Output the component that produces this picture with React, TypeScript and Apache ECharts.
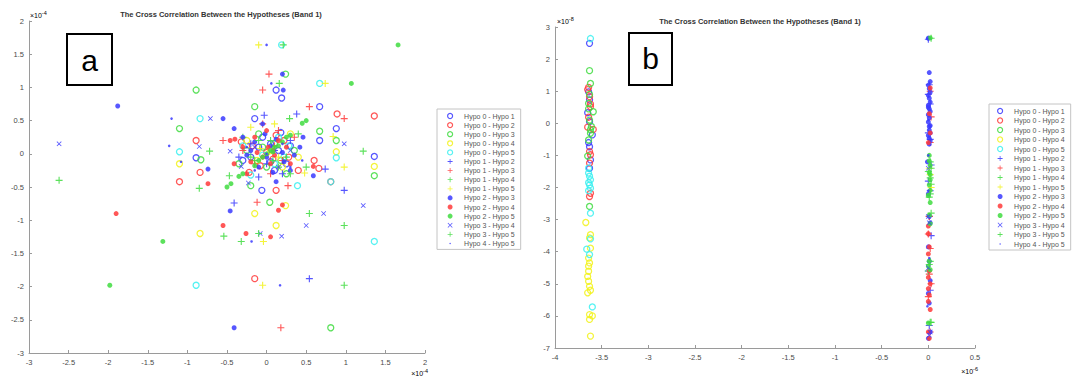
import React, { useEffect, useRef } from "react";
import * as echarts from "echarts";

// ---------- shared names / styles ----------
const seriesNames = [
  "Hypo 0 - Hypo 1", "Hypo 0 - Hypo 2", "Hypo 0 - Hypo 3", "Hypo 0 - Hypo 4", "Hypo 0 - Hypo 5",
  "Hypo 1 - Hypo 2", "Hypo 1 - Hypo 3", "Hypo 1 - Hypo 4", "Hypo 1 - Hypo 5",
  "Hypo 2 - Hypo 3", "Hypo 2 - Hypo 4", "Hypo 2 - Hypo 5",
  "Hypo 3 - Hypo 4", "Hypo 3 - Hypo 5", "Hypo 4 - Hypo 5",
];
const markerKinds = ["o", "o", "o", "o", "o", "+", "+", "+", "+", "*", "*", "*", "x", "+", "."];
const markerColors = [
  "#3a3aff", "#ff3a3a", "#3fdc3f", "#f2f21a", "#3af0f0",
  "#3a3aff", "#ff3a3a", "#3fdc3f", "#f2f21a",
  "#3a3aff", "#ff3a3a", "#3fdc3f",
  "#3a3aff", "#3fdc3f", "#3a3aff",
];

// ---------- panel a (x, y in units of 1e-4) ----------
const aTicksX = [-3, -2.5, -2, -1.5, -1, -0.5, 0, 0.5, 1, 1.5, 2];
const aTicksY = [-3, -2.5, -2, -1.5, -1, -0.5, 0, 0.5, 1, 1.5, 2];
const aH01 = [[0.12, 0.96], [0.19, 0.84], [-0.15, 0.53], [0.88, 0.38], [0.67, 0.2], [-0.89, -0.06], [1.36, -0.04], [-0.06, -0.55], [0.67, 0.71], [-0.1, 0.1], [0.05, -0.12], [0.15, 0.05], [-0.2, -0.05], [0.25, -0.15], [0.3, 0.12], [-0.05, 0.25], [0.1, -0.25], [-0.3, -0.1], [0.18, 0.32], [0.05, 0.15]];
const aH02 = [[0.89, 0.6], [1.36, 0.57], [-0.89, 0.2], [0.66, -0.22], [-0.84, -0.28], [-1.1, -0.42], [0.81, -0.42], [0.12, -0.55], [-0.15, -1.88], [-0.18, 0.12], [0.0, 0.02], [0.08, -0.08], [0.22, 0.2], [-0.08, -0.18], [0.28, -0.05], [0.6, -0.1], [-0.22, -0.28], [0.12, 0.28], [-0.32, 0.18], [0.4, -0.25]];
const aH03 = [[0.24, 1.2], [-0.89, 0.96], [-0.15, 0.71], [-1.1, 0.38], [0.67, 0.34], [0.88, 0.2], [-0.83, -0.09], [1.36, -0.33], [-0.2, -0.48], [0.04, -0.73], [0.81, -2.62], [0.1, 0.15], [-0.25, 0.05], [0.18, -0.1], [0.0, -0.2], [-0.1, 0.3], [0.35, 0.05], [-0.05, 0.1], [0.25, -0.3], [-0.35, -0.15]];
const aH04 = [[0.88, 0.03], [-1.1, -0.15], [1.36, -0.19], [0.24, -0.78], [-0.15, -0.9], [0.12, -1.08], [-0.84, -1.2], [0.05, 0.05], [-0.12, -0.1], [0.2, -0.2], [0.3, 0.3], [-0.25, 0.2], [0.4, -0.05]];
const aH05 = [[0.19, 1.64], [0.67, 1.06], [-0.84, 0.53], [-1.1, 0.03], [0.88, -0.06], [-0.2, -0.32], [0.81, -0.42], [0.39, -0.48], [1.36, -1.32], [-0.89, -1.98], [0.15, 0.25], [0.28, 0.12], [-0.05, -0.02], [0.1, -0.15], [-0.3, 0.12], [0.22, -0.05]];
const aH12 = [[0.38, 0.6], [-0.03, 0.58], [0.74, -0.23], [0.98, -0.55], [-0.41, -0.74], [0.54, -1.88], [0.1, 0.05], [-0.2, 0.15], [0.2, -0.3], [-0.1, -0.35], [0.3, 0.2], [0.0, -0.15], [-0.35, -0.05]];
const aH13 = [[0.03, 1.2], [-0.05, 0.96], [0.54, 0.71], [0.98, 0.53], [-0.55, 0.2], [0.27, -0.48], [-0.12, -0.73], [0.18, -2.62], [-0.05, 0.45], [0.15, 0.35], [0.35, 0.25], [-0.3, 0.05], [0.05, -0.3], [0.2, -0.1], [-0.15, -0.15], [0.1, 0.12]];
const aH14 = [[0.21, 1.64], [0.16, 1.06], [0.29, 0.53], [-0.72, 0.04], [0.5, -0.2], [-0.47, -0.33], [-0.85, -0.52], [0.54, -0.9], [0.05, 0.2], [-0.15, -0.1], [0.25, -0.05], [0.4, 0.3], [0.15, -0.2], [-0.3, 0.25]];
const aH15 = [[-0.1, 1.64], [0.74, 1.06], [0.84, 0.26], [0.98, -0.2], [0.48, -0.29], [-0.04, -1.32], [-0.05, -1.98], [0.1, 0.45], [-0.2, 0.4], [0.15, -0.05], [-0.08, 0.08]];
const aH23 = [[0.2, 1.2], [0.21, 0.96], [-0.55, 0.53], [-0.41, 0.38], [-0.74, -0.23], [0.59, -0.33], [-0.46, -0.86], [-0.41, -2.62], [-1.88, 0.72], [0.46, 0.25], [-0.02, 0.3], [0.12, 0.22], [-0.25, -0.02], [0.0, -0.05], [0.2, 0.02], [-0.1, -0.2], [0.12, -0.42], [0.3, -0.25], [-0.3, 0.25], [0.05, 0.12], [0.35, -0.02], [-0.15, 0.18], [0.22, -0.12], [-0.2, 0.05], [0.08, -0.28], [-0.05, 0.45], [0.42, 0.1]];
const aH24 = [[-0.46, 0.2], [-0.4, 0.22], [-0.41, -0.15], [0.59, -0.19], [-0.74, -0.45], [0.2, -0.77], [0.15, -0.85], [-0.55, -1.08], [-0.26, -1.2], [0.05, -1.25], [-1.9, -0.9], [-0.12, 0.02], [0.02, 0.1], [0.1, -0.02], [-0.2, -0.12], [0.05, -0.15], [-0.05, -0.05], [0.25, 0.1], [-0.3, 0.1], [0.0, 0.35], [0.15, 0.2], [-0.15, 0.25], [0.3, -0.15], [-0.25, -0.3], [0.08, 0.05]];
const aH25 = [[1.66, 1.64], [1.07, 1.06], [0.5, 0.5], [0.45, 0.46], [-0.3, -0.3], [-0.35, -0.34], [-0.45, -0.45], [-0.5, -0.5], [-1.31, -1.32], [-1.98, -1.98], [0.05, 0.05], [0.1, 0.1], [-0.05, -0.05], [0.15, 0.12], [-0.1, -0.1], [0.2, 0.18], [0.0, 0.0], [0.08, 0.03], [0.25, 0.25], [-0.15, -0.18], [0.3, 0.28]];
const aH34 = [[-2.62, 0.15], [-0.71, 0.53], [-0.85, 0.11], [-0.46, 0.04], [-0.32, -0.19], [0.98, 0.15], [-0.23, -0.44], [1.22, -0.78], [0.72, -0.9], [0.5, -1.08], [-0.08, -1.2], [0.19, -1.24], [0.3, 0.05], [0.15, -0.2], [-0.15, 0.1]];
const aH35 = [[-2.62, -0.4], [1.22, 0.04], [0.98, -1.08], [-0.54, -1.24], [-0.1, -1.2], [-0.32, -1.32], [0.98, -1.98], [0.08, -0.1], [-0.1, 0.2], [0.3, -0.3], [-0.2, -0.05]];
const aH45 = [[0.0, 1.64], [0.06, 1.06], [-1.2, 0.53], [-1.23, 0.12], [-1.08, -0.12], [-0.19, -1.32], [0.17, -1.98], [0.45, -0.1], [0.0, 0.0], [0.2, 0.15], [-0.15, -0.25], [0.3, -0.2], [-0.25, 0.1]];
const panelA = [aH01, aH02, aH03, aH04, aH05, aH12, aH13, aH14, aH15, aH23, aH24, aH25, aH34, aH35, aH45];

// ---------- panel b (x in units of 1e-6, y in units of 1e-8) ----------
const bTicksX = [-4, -3.5, -3, -2.5, -2, -1.5, -1, -0.5, 0, 0.5];
const bTicksY = [-7, -6, -5, -4, -3, -2, -1, 0, 1, 2, 3];
const bH01 = [[-3.63, 2.49], [-3.64, 0.98], [-3.63, 0.73], [-3.65, 0.33], [-3.6, -0.36], [-3.63, -0.73], [-3.62, -1.14], [-3.63, 0.05], [-3.64, -0.6], [-3.63, -1.4]];
const bH02 = [[-3.64, 1.12], [-3.63, 0.83], [-3.62, 0.52], [-3.64, 0.19], [-3.65, -0.12], [-3.59, -0.19], [-3.63, -0.88], [-3.62, -0.98], [-3.63, -1.24], [-3.62, -2.18], [-3.63, -2.28], [-3.65, 1.05], [-3.62, 0.6]];
const bH03 = [[-3.63, 1.64], [-3.62, 1.24], [-3.64, 0.62], [-3.59, 0.36], [-3.63, 0.1], [-3.62, -0.31], [-3.64, -0.52], [-3.65, -1.02], [-3.63, -2.59], [-3.63, 0.9], [-3.61, -0.1], [-3.64, 0.45], [-3.62, -0.2]];
const bH04 = [[-3.67, -3.09], [-3.62, -3.47], [-3.63, -3.57], [-3.62, -3.89], [-3.64, -4.2], [-3.63, -4.35], [-3.64, -4.61], [-3.65, -4.77], [-3.64, -4.92], [-3.63, -5.08], [-3.62, -5.2], [-3.65, -5.28], [-3.63, -5.96], [-3.63, -6.11], [-3.62, -6.63], [-3.64, -4.45], [-3.6, -6.0]];
const bH05 = [[-3.62, 2.64], [-3.64, -1.55], [-3.63, -1.65], [-3.62, -1.76], [-3.64, -1.85], [-3.63, -1.92], [-3.62, -2.02], [-3.64, -2.1], [-3.62, -2.8], [-3.62, -3.6], [-3.66, -3.92], [-3.63, -4.09], [-3.6, -5.72], [-3.64, -1.4]];
const bH12 = [[0.0, 2.62], [0.01, 1.2], [0.02, 0.6], [0.0, -0.3], [0.03, -1.3], [0.0, -1.8], [0.02, -2.1], [0.01, -2.9], [0.03, -3.5], [0.0, -4.6], [0.02, -5.2], [0.01, -6.3], [0.0, 0.9], [0.02, -0.5]];
const bH13 = [[0.02, 1.0], [0.03, 0.2], [0.02, -0.6], [0.0, -3.45], [0.02, -3.9], [0.01, -4.7], [0.03, -5.0], [0.0, -5.4], [0.02, -6.5], [0.01, -2.9]];
const bH14 = [[0.03, 2.65], [0.02, -1.2], [0.0, -1.5], [0.03, -1.9], [0.01, -2.3], [0.02, -4.3], [0.0, -4.6], [0.03, -6.2], [0.02, -1.7]];
const bH15 = [[0.02, -1.6], [0.03, -2.0], [0.01, -1.4]];
const bH23 = [[0.0, 2.65], [0.01, 1.58], [0.0, 1.19], [0.02, 0.97], [0.01, 0.78], [0.0, 0.56], [0.02, 0.37], [0.01, 0.17], [0.0, 0.04], [0.02, -0.07], [0.01, -0.21], [0.0, -0.38], [0.02, -0.54], [0.01, -0.65], [0.02, 1.3], [0.0, 0.5], [0.01, -0.1], [-0.01, -1.2], [0.0, -2.2], [0.01, -2.9], [0.02, -3.1], [0.0, -3.85], [0.01, -4.3], [0.02, -4.9], [0.0, -5.3], [0.01, -5.6], [0.02, -6.5], [0.0, -6.7], [0.01, 1.08], [0.0, 0.87], [0.02, 0.66], [0.01, 0.45], [0.0, 0.27], [0.02, -0.3], [0.01, -0.47]];
const bH24 = [[0.02, 1.1], [0.01, 0.3], [0.02, -0.3], [0.0, -0.6], [0.0, -3.44], [0.01, -3.85], [0.0, -4.07], [0.01, -4.6], [0.0, -4.8], [0.02, -5.0], [0.0, -5.15], [0.01, -5.35], [0.0, -5.55], [0.02, -5.8], [0.0, -6.5], [0.01, -6.7], [0.0, -3.2]];
const bH25 = [[0.02, 2.66], [0.01, -1.17], [0.02, -1.31], [0.01, -1.53], [0.02, -1.76], [0.01, -1.92], [0.02, -2.09], [0.0, -2.25], [0.02, -2.47], [0.01, -2.86], [0.02, -3.13], [0.01, -4.29], [0.0, -4.45], [0.02, -4.56], [0.0, -6.22], [0.01, -1.0], [0.02, -1.6]];
const bH34 = [[0.0, -2.9], [0.01, -3.1], [0.0, -4.5], [0.02, -6.5], [0.01, -6.6], [0.0, -1.4]];
const bH35 = [[0.03, -1.4], [0.02, -2.2], [0.01, -4.4], [0.02, -6.2], [0.03, -2.8]];
const bH45 = [[-0.01, 2.64], [0.0, -1.0], [0.0, -2.1], [0.01, -4.2], [-0.01, -5.7], [0.0, 0.1]];
const panelB = [bH01, bH02, bH03, bH04, bH05, bH12, bH13, bH14, bH15, bH23, bH24, bH25, bH34, bH35, bH45];

const CROSS = "path://M-0.16,-1H0.16V-0.16H1V0.16H0.16V1H-0.16V0.16H-1V-0.16H-0.16Z";
const XMARK = "path://M-1,-0.78L-0.78,-1L0,-0.22L0.78,-1L1,-0.78L0.22,0L1,0.78L0.78,1L0,0.22L-0.78,1L-1,0.78L-0.22,0Z";
const SMALL_DOT = "path://M-3,-3M3,3M0.9,0A0.9,0.9,0,1,1,-0.9,0A0.9,0.9,0,1,1,0.9,0Z";
const FONT = "'Liberation Sans', Arial, sans-serif";

function markerStyle(kind: string, color: string) {
  if (kind === "o") {
    return { symbol: "circle", symbolSize: 6, itemStyle: { color: "rgba(255,255,255,0)", borderColor: color, borderWidth: 1.3 } };
  }
  if (kind === "+") {
    return { symbol: CROSS, symbolSize: 7, itemStyle: { color } };
  }
  if (kind === "x") {
    return { symbol: XMARK, symbolSize: 5, itemStyle: { color } };
  }
  if (kind === "*") {
    return { symbol: "circle", symbolSize: 5, itemStyle: { color } };
  }
  return { symbol: "circle", symbolSize: 2.6, itemStyle: { color } };
}

function axisCommon(ticks: number[]) {
  return {
    type: "value" as const,
    min: ticks[0],
    max: ticks[ticks.length - 1],
    interval: ticks[1] - ticks[0],
    axisLine: { show: true, onZero: false, lineStyle: { color: "#9a9a9a", width: 1 } },
    axisTick: { show: true, inside: true, length: 3, lineStyle: { color: "#9a9a9a" } },
    axisLabel: { color: "#4a4a4a", fontSize: 7.5, fontFamily: FONT, margin: 5, showMinLabel: true, showMaxLabel: true },
    splitLine: { show: false },
  };
}

function legendData() {
  return seriesNames.map((name, i) => {
    const kind = markerKinds[i];
    const c = markerColors[i];
    if (kind === "o") return { name, icon: "circle", itemStyle: { color: "rgba(255,255,255,0)", borderColor: c, borderWidth: 1.2 } };
    if (kind === ".") return { name, icon: SMALL_DOT, itemStyle: { color: c, borderWidth: 0 } };
    if (kind === "x") return { name, icon: XMARK, itemStyle: { color: c, borderWidth: 0 } };
    if (kind === "+") return { name, icon: CROSS, itemStyle: { color: c, borderWidth: 0 } };
    return { name, icon: "circle", itemStyle: { color: c, borderWidth: 0 } };
  });
}

export default function App() {
  const ref = useRef<HTMLDivElement>(null);
  useEffect(() => {
    if (!ref.current) return;
    const chart = echarts.init(ref.current, undefined, { renderer: "svg" });
    const series: any[] = [];
    [panelA, panelB].forEach((panel, p) => {
      panel.forEach((data, i) => {
        const m = markerStyle(markerKinds[i], markerColors[i]);
        series.push({
          type: "scatter",
          name: seriesNames[i],
          xAxisIndex: p,
          yAxisIndex: p,
          data,
          symbol: m.symbol,
          symbolSize: m.symbolSize,
          itemStyle: { ...m.itemStyle, opacity: 0.85 },
          emphasis: { disabled: true },
        });
      });
    });
    const legendCommon = {
      orient: "vertical" as const,
      data: legendData(),
      itemWidth: 18,
      itemHeight: 5,
      itemGap: 1.1,
      backgroundColor: "#fff",
      borderColor: "#c4c4c4",
      borderWidth: 1,
      textStyle: { fontSize: 7, fontFamily: FONT, color: "#555", lineHeight: 8 },
      selectedMode: false,
    };
    const sup = (s: string) => `{b|×10}{s|${s}}`;
    const expRich = {
      b: { fontSize: 7, fontFamily: FONT, color: "#555" },
      s: { fontSize: 5.5, fontFamily: FONT, color: "#555", verticalAlign: "top", padding: [0, 0, 5, 0] },
    };
    const titleStyle = { fontSize: 7.5, fontWeight: "bold", fontFamily: FONT, color: "#333" };
    chart.setOption({
      animation: false,
      backgroundColor: "#fff",
      title: [
        { text: "The Cross Correlation Between the Hypotheses (Band 1)", left: 221, top: 10, padding: 0, textAlign: "center", textStyle: titleStyle },
        { text: "The Cross Correlation Between the Hypotheses (Band 1)", left: 760, top: 17, padding: 0, textAlign: "center", textStyle: titleStyle },
      ],
      grid: [
        { left: 29, top: 21, width: 396, height: 332 },
        { left: 555, top: 27, width: 420, height: 321 },
      ],
      xAxis: [
        { ...axisCommon(aTicksX), gridIndex: 0 },
        { ...axisCommon(bTicksX), gridIndex: 1 },
      ],
      yAxis: [
        { ...axisCommon(aTicksY), gridIndex: 0 },
        { ...axisCommon(bTicksY), gridIndex: 1 },
      ],
      legend: [
        { ...legendCommon, left: 437, top: 109, padding: [3, 6, 2, 10] },
        { ...legendCommon, left: 989, top: 104, padding: [3, 6, 2, 8], itemGap: 1.5 },
      ],
      graphic: [
        { type: "rect", shape: { x: 67, y: 34, width: 45, height: 51 }, style: { fill: "#fff", stroke: "#000", lineWidth: 2 } },
        { type: "text", x: 89.5, y: 60, style: { text: "a", fontSize: 30, fontFamily: FONT, fill: "#000", align: "center", verticalAlign: "middle" } },
        { type: "rect", shape: { x: 629, y: 33, width: 43, height: 52 }, style: { fill: "#fff", stroke: "#000", lineWidth: 2 } },
        { type: "text", x: 650.5, y: 58, style: { text: "b", fontSize: 30, fontFamily: FONT, fill: "#000", align: "center", verticalAlign: "middle" } },
        { type: "text", x: 30, y: 15, style: { text: sup("-4"), rich: expRich, align: "left", verticalAlign: "middle" } },
        { type: "text", x: 428, y: 373, style: { text: sup("-4"), rich: expRich, align: "right", verticalAlign: "middle" } },
        { type: "text", x: 557, y: 21, style: { text: sup("-8"), rich: expRich, align: "left", verticalAlign: "middle" } },
        { type: "text", x: 978, y: 371, style: { text: sup("-6"), rich: expRich, align: "right", verticalAlign: "middle" } },
      ],
      series,
    });
    return () => chart.dispose();
  }, []);
  return <div ref={ref} style={{ position: "fixed", left: 0, top: 0, width: 1080, height: 381, background: "#fff" }} />;
}
